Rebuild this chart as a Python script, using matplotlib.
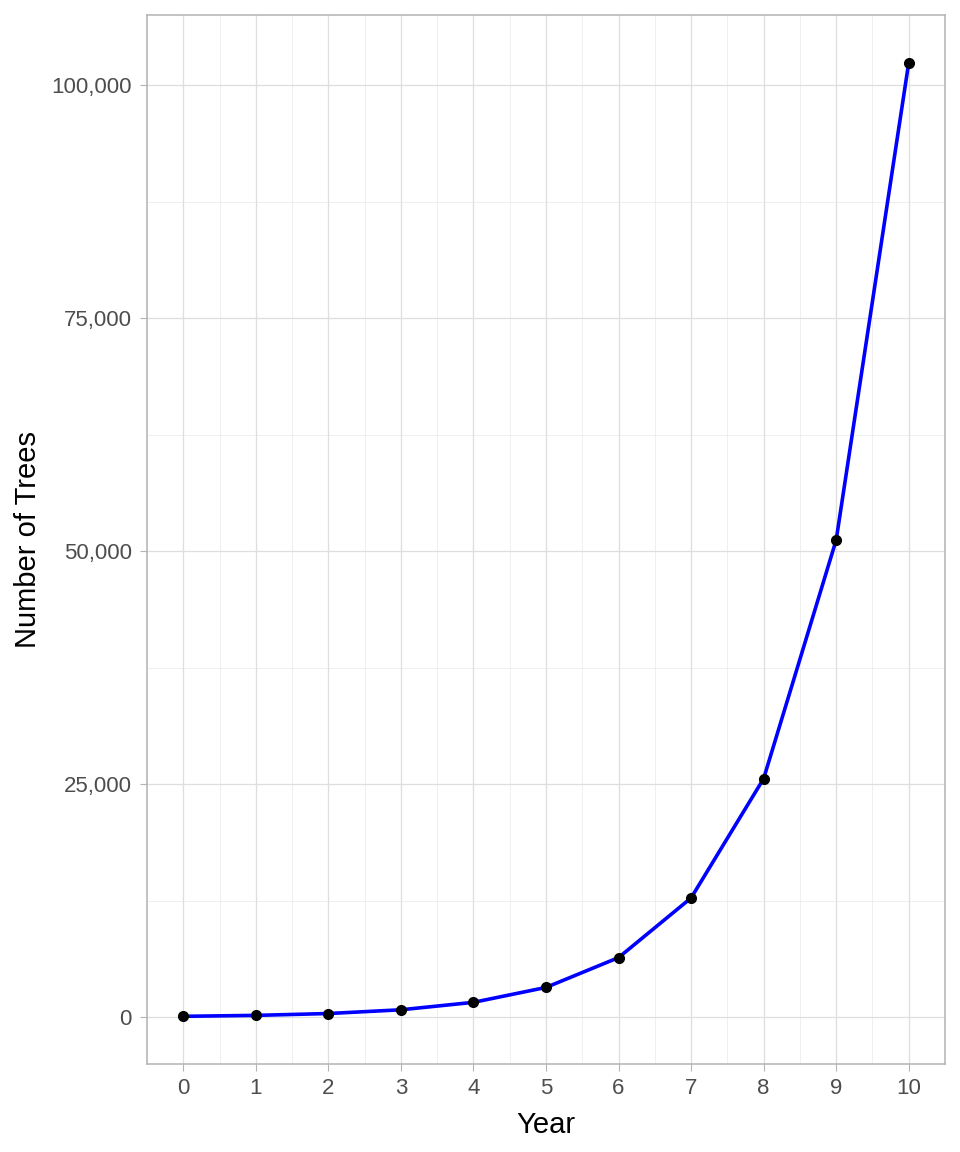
import matplotlib.pyplot as plt
from matplotlib.ticker import FuncFormatter, MultipleLocator

plt.rcParams['font.family'] = ['Liberation Sans', 'DejaVu Sans']

# tree counts by year (doubling every year from 100)
years = [0, 1, 2, 3, 4, 5, 6, 7, 8, 9, 10]
trees = [100, 200, 400, 800, 1600, 3200, 6400, 12800, 25600, 51200, 102400]
y_ticks = [0, 25000, 50000, 75000, 100000]

fig = plt.figure(figsize=(9.6, 11.52), dpi=100)
ax = fig.add_axes([147 / 960, 1 - 1064 / 1152, (945 - 147) / 960, (1064 - 15) / 1152])

ax.plot(years, trees, color='#0000ff', lw=2.6, zorder=3)
ax.plot(years, trees, 'o', color='black', ms=7, zorder=4)

span = max(trees) - min(trees)
ax.set_ylim(min(trees) - 0.05 * span, max(trees) + 0.05 * span)
ax.set_xlim(-0.5, 10.5)

ax.set_xticks(years)
ax.set_yticks(y_ticks)
ax.xaxis.set_minor_locator(MultipleLocator(0.5))
ax.yaxis.set_minor_locator(MultipleLocator(12500))
ax.yaxis.set_major_formatter(FuncFormatter(lambda v, p: f'{int(v):,}'))

ax.grid(which='major', color='#dedede', lw=0.9)
ax.grid(which='minor', color='#e6e6e6', lw=0.45)
ax.set_axisbelow(True)
for s in ax.spines.values():
    s.set_color('#b3b3b3')
    s.set_linewidth(1.1)

ax.tick_params(which='major', length=5, color='#b3b3b3', labelsize=16,
               labelcolor='#4d4d4d')
ax.tick_params(axis='y', pad=6)
ax.tick_params(axis='x', pad=5)
ax.tick_params(which='minor', length=0)

ax.set_xlabel('Year', fontsize=21, labelpad=9)
ax.set_ylabel('Number of Trees', fontsize=21, labelpad=7)

fig.savefig('out.png', dpi=100)
